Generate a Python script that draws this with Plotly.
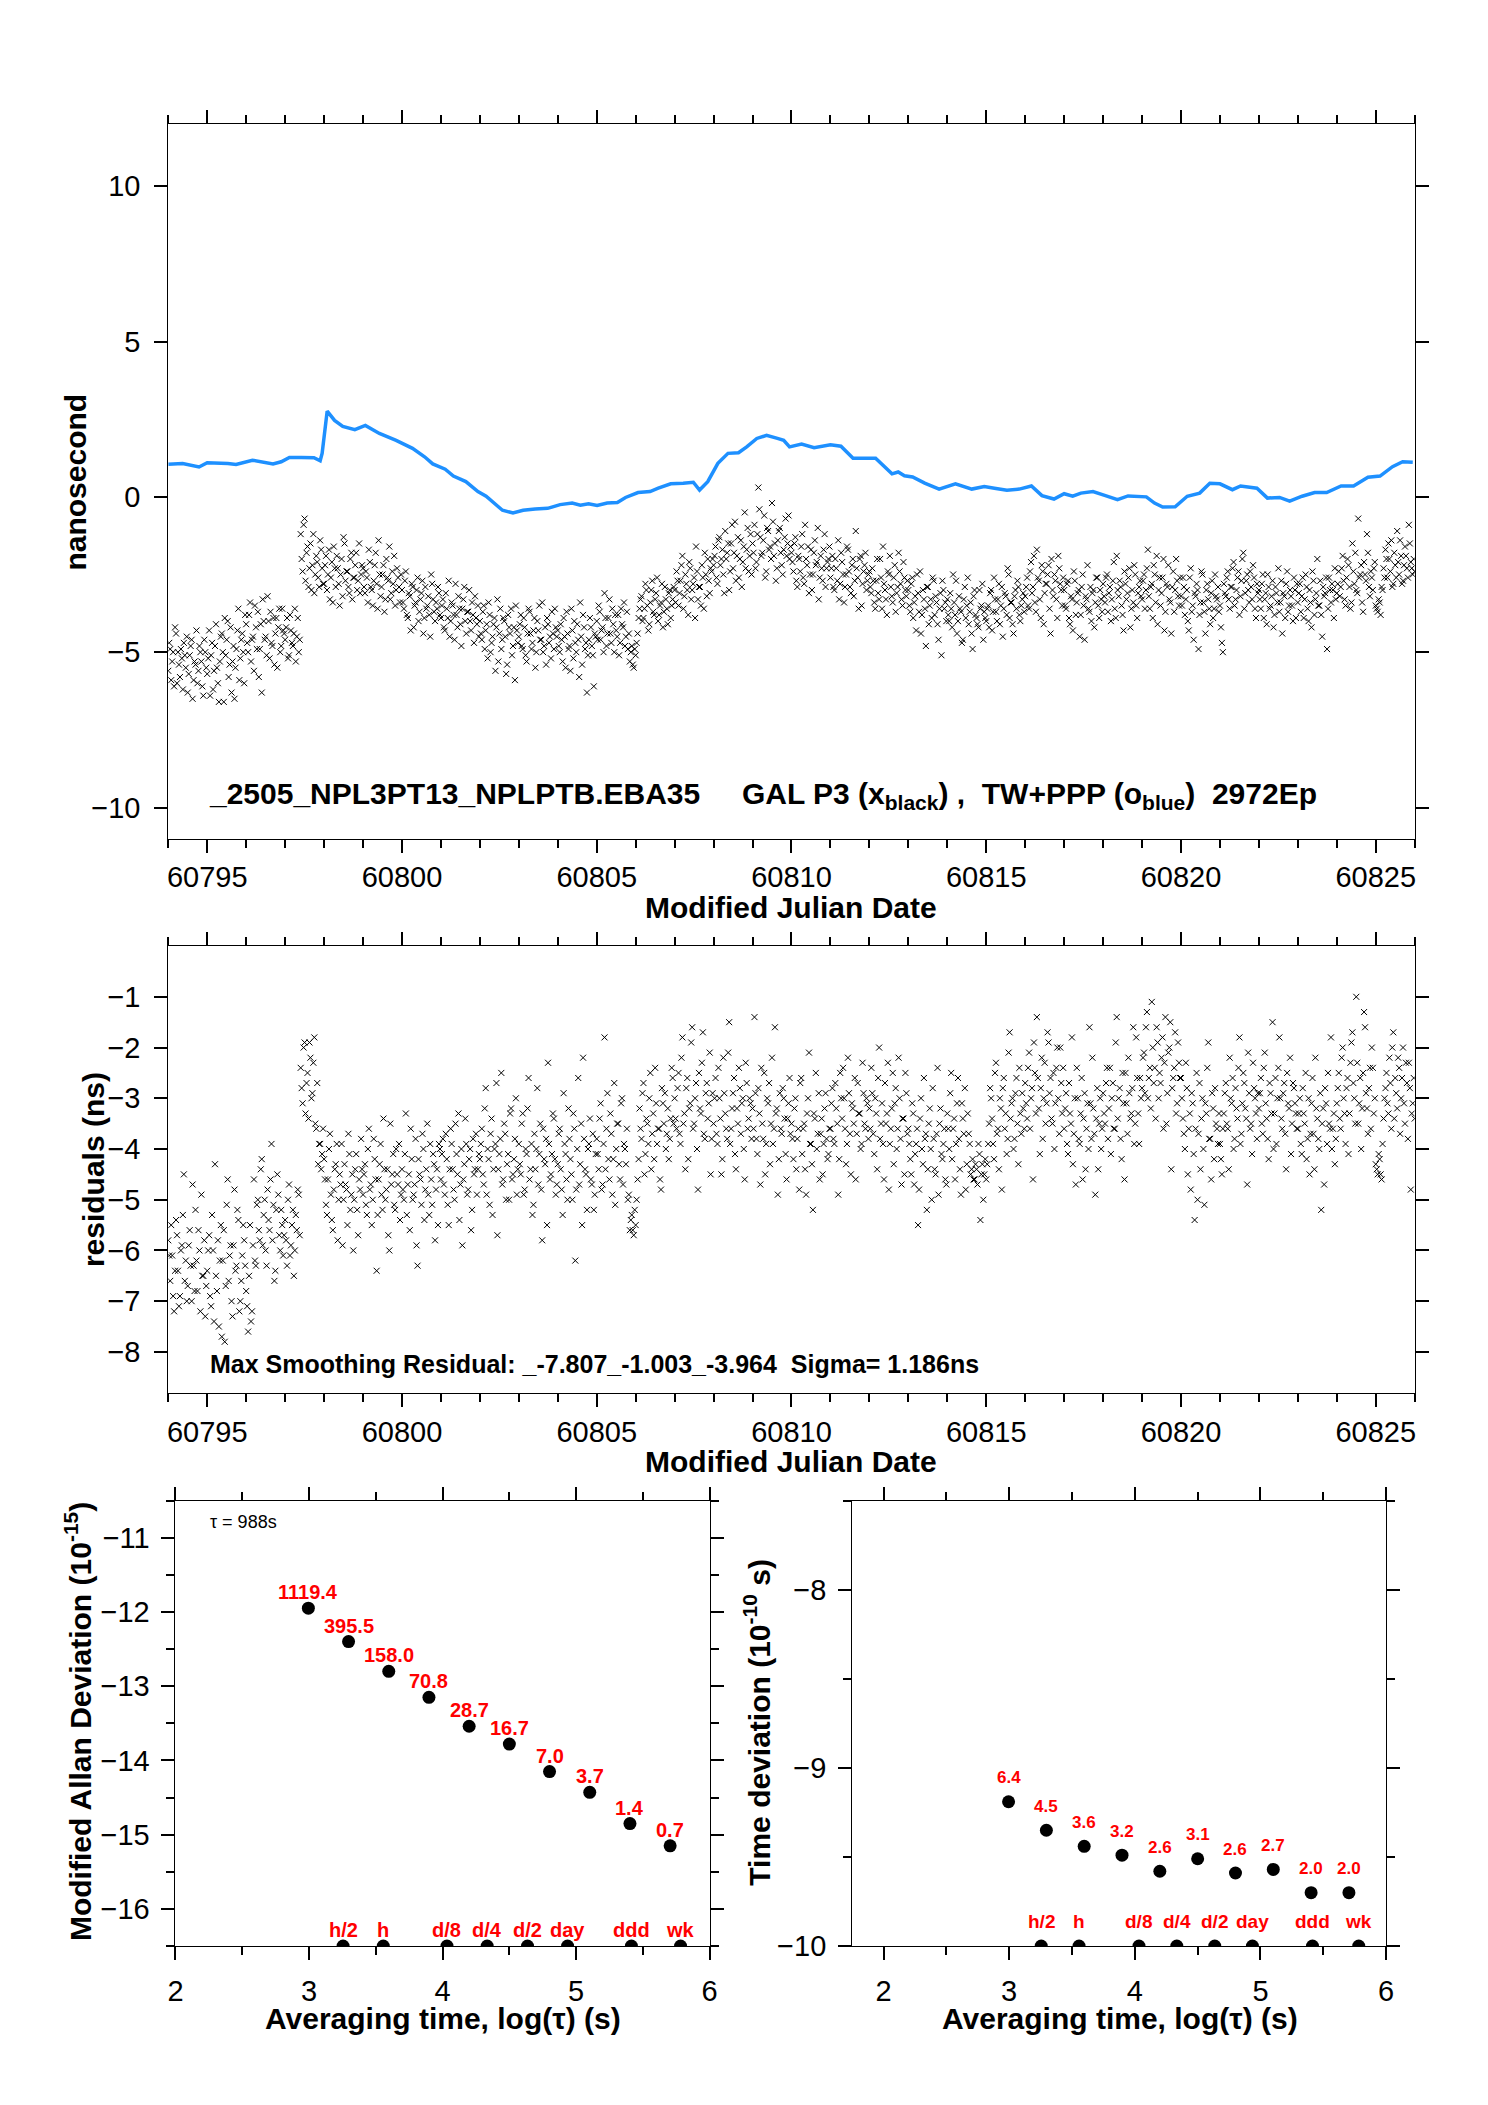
import numpy as np
import plotly.graph_objects as go

FONT = "Liberation Sans, Arial, Helvetica, sans-serif"
W, H = 1488, 2105

# ---------------- data ----------------
MJD_START = 60794.0
EPOCH_STEP = 0.05      # days between plotted epochs of one sample set
HALF_STEP_OFFSET = 0.025   # second, interleaved sample set

# GAL P3 clock differences (ns), one row per day (epochs 60794.000 + 0.05 k)
GAL_P3 = [
 -5.6,-4.9,-5.3,-6.1,-4.4,-5.0,-5.8,-5.2,-4.7,-5.5,-6.3,-5.1,-4.6,-5.9,-5.4,-6.0,-4.8,-5.3,-6.4,-5.0,
 -5.7,-4.3,-5.1,-6.2,-4.8,-5.5,-6.6,-4.5,-5.0,-3.9,-4.6,-5.8,-4.2,-5.3,-6.5,-4.9,-3.6,-5.2,-4.4,-6.0,
 -4.1,-5.0,-3.4,-4.6,-5.6,-4.2,-3.7,-4.9,-6.3,-4.0,-4.5,-3.2,-5.2,-4.7,-3.9,-4.4,-5.5,-3.6,-4.8,-4.3,
 -4.6,-3.9,-5.1,-4.3,-4.8,-3.6,-4.5,-5.0,-1.2,-2.4,-0.7,-1.8,-2.9,-1.5,-2.2,-3.1,-1.9,-2.6,-1.4,-2.3,
 -2.8,-1.9,-2.5,-3.3,-2.1,-1.6,-2.9,-2.3,-3.5,-2.0,-1.3,-2.7,-2.4,-3.1,-1.8,-2.6,-2.2,-3.0,-1.5,-2.5,
 -2.3,-3.1,-2.6,-1.7,-2.9,-3.5,-2.2,-2.8,-1.4,-3.2,-2.5,-3.7,-2.0,-2.7,-3.3,-2.4,-1.9,-3.0,-2.6,-3.4,
 -3.0,-3.6,-2.4,-3.9,-3.2,-2.8,-4.2,-3.4,-2.6,-3.7,-3.1,-4.4,-2.9,-3.5,-3.8,-2.5,-3.3,-4.0,-3.6,-3.1,
 -3.9,-3.3,-4.3,-3.6,-2.7,-4.0,-3.5,-4.6,-3.8,-3.2,-4.1,-3.6,-2.9,-4.4,-3.7,-4.0,-3.4,-4.7,-3.9,-3.5,
 -4.0,-4.6,-3.5,-4.3,-5.2,-3.8,-4.7,-4.1,-5.6,-3.3,-4.4,-4.9,-3.9,-4.5,-5.4,-4.2,-3.6,-4.8,-5.9,-4.3,
 -4.5,-3.8,-4.9,-4.2,-5.3,-3.6,-4.4,-4.7,-3.9,-5.0,-4.3,-4.6,-3.4,-4.8,-5.4,-4.1,-4.5,-3.7,-4.9,-4.2,
 -4.3,-5.0,-4.6,-3.9,-5.5,-4.4,-4.8,-3.6,-5.2,-4.7,-4.1,-5.8,-4.5,-3.8,-4.9,-6.3,-4.6,-4.2,-5.1,-4.4,
 -4.0,-3.5,-4.6,-4.2,-3.1,-4.8,-3.9,-4.4,-3.6,-5.0,-4.3,-3.8,-4.7,-4.1,-3.4,-4.5,-4.9,-5.3,-4.8,-5.5,
 -5.1,-4.4,-3.6,-3.2,-3.9,-2.8,-3.5,-4.1,-3.0,-3.7,-3.3,-2.6,-3.8,-3.4,-4.2,-2.9,-3.6,-3.1,-3.9,-3.3,
 -3.0,-2.4,-3.5,-2.7,-1.9,-3.2,-2.8,-3.8,-2.3,-3.0,-2.6,-1.6,-3.3,-2.9,-2.2,-3.6,-2.5,-2.0,-3.1,-2.4,
 -2.2,-1.6,-2.8,-1.3,-2.0,-2.5,-1.1,-1.8,-3.0,-1.5,-2.3,-0.8,-1.9,-2.6,-1.4,-2.1,-0.5,-1.7,-2.4,-1.2,
 -1.5,-0.9,-2.1, 0.3,-1.3,-1.8,-0.6,-2.4,-1.1,-1.6,-0.2,-1.9,-2.7,-1.4,-1.0,-2.2,-1.7,-0.7,-1.5,-2.0,
 -1.8,-2.4,-1.3,-2.9,-2.0,-1.6,-2.6,-0.9,-2.2,-3.1,-1.7,-2.5,-1.4,-2.1,-3.3,-1.9,-2.7,-1.2,-2.3,-2.0,
 -2.6,-1.9,-3.0,-2.3,-1.4,-2.8,-2.1,-3.4,-2.5,-1.7,-2.9,-2.2,-3.2,-1.1,-2.6,-2.0,-3.5,-2.4,-1.8,-2.7,
 -2.4,-3.1,-2.7,-3.6,-2.0,-3.3,-2.6,-1.6,-3.0,-3.8,-2.5,-2.9,-3.4,-2.2,-3.1,-1.8,-2.8,-3.5,-2.6,-3.2,
 -3.0,-3.7,-2.6,-3.4,-4.3,-3.1,-2.4,-3.8,-3.3,-4.8,-2.9,-3.5,-3.9,-2.7,-3.2,-4.1,-3.6,-5.1,-3.0,-3.4,
 -3.3,-4.0,-3.6,-2.5,-3.8,-4.4,-3.2,-3.7,-4.6,-2.9,-3.5,-4.1,-3.4,-4.9,-3.0,-3.9,-4.2,-3.6,-2.8,-3.7,
 -4.0,-3.5,-3.1,-4.3,-2.6,-3.7,-3.3,-4.1,-2.9,-3.6,-3.2,-2.3,-3.9,-3.4,-4.4,-3.0,-2.7,-3.8,-3.5,-3.1,
 -3.2,-2.6,-3.6,-2.1,-2.9,-3.4,-1.7,-2.7,-3.9,-2.4,-3.1,-2.8,-2.2,-4.4,-3.0,-2.5,-3.3,-1.9,-2.8,-3.5,
 -3.0,-3.6,-2.7,-4.1,-3.3,-2.4,-3.8,-3.1,-4.5,-2.9,-3.5,-3.2,-2.2,-3.7,-4.0,-3.0,-3.4,-2.6,-3.9,-3.3,
 -2.8,-3.4,-2.5,-3.1,-4.0,-2.7,-3.6,-1.9,-3.2,-2.9,-3.8,-2.4,-3.3,-2.6,-4.2,-3.0,-2.2,-3.5,-3.1,-2.7,
 -3.3,-2.5,-3.0,-1.7,-3.6,-2.8,-2.2,-3.4,-4.1,-2.6,-3.1,-2.0,-3.7,-2.9,-3.3,-4.4,-2.4,-3.0,-2.7,-3.5,
 -3.2,-2.6,-3.8,-3.0,-4.3,-2.3,-3.5,-3.1,-2.8,-4.9,-3.4,-2.5,-3.7,-3.0,-3.3,-4.1,-2.7,-3.6,-3.2,-2.9,
 -3.5,-4.7,-2.8,-3.2,-2.4,-3.6,-2.9,-2.1,-3.3,-2.6,-3.8,-2.7,-1.8,-3.1,-2.5,-3.4,-2.9,-2.2,-3.6,-2.8,
 -3.0,-3.6,-2.5,-3.3,-4.1,-2.9,-3.5,-2.7,-3.8,-3.1,-2.3,-3.4,-4.4,-3.2,-2.8,-3.7,-3.0,-3.5,-2.6,-3.9,
 -3.4,-2.8,-3.2,-3.9,-2.5,-3.6,-3.0,-4.2,-2.7,-3.3,-2.0,-3.5,-3.8,-2.9,-3.1,-4.9,-2.6,-3.4,-3.0,-2.3,
 -3.1,-2.4,-2.9,-1.9,-3.3,-2.6,-2.2,-3.6,-1.5,-2.8,-3.0,-0.7,-2.5,-3.4,-2.1,-2.7,-1.8,-3.2,-2.6,-2.3,
 -3.5,-3.7,-3.4,-2.9,-2.3,-1.7,-2.6,-2.0,-1.4,-2.8,-2.2,-1.1,-2.5,-1.9,-2.7,-1.6,-2.3,-0.9,-2.1,-2.5,
 -2.4,
]

# GAL P3, interleaved epochs (60794.025 + 0.05 k)
GAL_P3_B = [
 -4.7,-5.9,-5.0,-4.2,-6.0,-5.4,-4.9,-6.2,-5.1,-4.5,-5.7,-4.8,-6.5,-5.3,-4.3,-5.6,-5.0,-6.1,-4.6,-5.5,
 -5.2,-6.4,-4.7,-5.6,-4.1,-6.0,-5.3,-4.4,-6.6,-5.1,-4.0,-5.4,-6.3,-4.8,-5.5,-4.3,-5.9,-4.6,-5.0,-3.8,
 -4.7,-3.8,-5.3,-4.5,-3.5,-4.9,-5.8,-4.1,-3.3,-4.6,-5.1,-4.0,-3.7,-4.8,-5.4,-3.9,-4.2,-5.0,-3.6,-4.4,
 -4.2,-5.2,-3.8,-4.7,-4.4,-5.3,-3.9,-4.6,-2.0,-0.9,-2.7,-1.6,-2.3,-3.0,-1.2,-2.5,-2.1,-2.9,-1.7,-2.8,
 -2.2,-3.0,-1.7,-2.6,-3.4,-2.3,-1.9,-2.8,-2.5,-3.2,-1.5,-2.4,-2.9,-2.0,-3.3,-2.6,-1.8,-2.7,-3.1,-2.2,
 -2.9,-2.4,-3.4,-2.1,-3.0,-2.7,-1.8,-3.6,-2.5,-2.9,-2.2,-3.3,-2.6,-1.6,-3.1,-2.8,-3.5,-2.3,-2.9,-2.5,
 -3.4,-2.7,-3.8,-3.1,-4.3,-2.9,-3.5,-3.0,-4.0,-3.3,-2.7,-3.9,-3.6,-3.2,-4.5,-2.8,-3.7,-3.4,-2.9,-3.8,
 -3.5,-4.2,-3.1,-3.9,-4.5,-3.4,-3.8,-2.8,-4.2,-3.6,-4.8,-3.3,-4.0,-3.7,-3.0,-4.3,-3.8,-3.2,-4.1,-4.5,
 -4.4,-3.7,-4.9,-4.1,-3.4,-5.0,-4.5,-3.9,-4.2,-5.3,-3.6,-4.6,-4.0,-5.7,-3.8,-4.4,-5.1,-4.2,-3.5,-4.7,
 -4.1,-4.8,-3.9,-5.1,-4.4,-3.7,-4.9,-4.3,-5.5,-4.0,-3.5,-4.6,-5.0,-4.2,-3.9,-4.7,-5.2,-4.4,-3.6,-4.5,
 -4.8,-4.1,-5.3,-4.5,-3.7,-4.9,-5.6,-4.3,-4.0,-5.0,-4.6,-3.4,-5.4,-4.2,-4.7,-5.1,-3.9,-4.8,-6.1,-4.5,
 -4.6,-3.7,-4.3,-5.0,-3.9,-4.4,-3.3,-4.7,-4.1,-3.8,-4.5,-5.1,-3.6,-4.2,-4.8,-3.7,-4.4,-5.0,-5.4,-4.9,
 -4.7,-3.9,-3.3,-4.0,-3.6,-3.0,-4.3,-3.4,-2.7,-3.8,-3.1,-4.0,-3.5,-2.8,-3.7,-3.3,-4.1,-3.0,-3.5,-2.9,
 -3.4,-2.7,-3.1,-2.2,-3.6,-2.5,-3.0,-2.1,-3.3,-2.8,-3.9,-2.4,-2.9,-3.5,-2.6,-1.8,-3.2,-2.7,-2.3,-2.0,
 -1.9,-2.6,-1.4,-2.2,-1.7,-3.1,-2.0,-1.5,-2.4,-0.9,-1.8,-2.7,-1.3,-2.0,-2.9,-1.6,-2.3,-1.0,-1.9,-2.5,
 -1.8,-2.3,-1.2,-0.4,-1.9,-1.4,-2.6,-1.0,-1.7,-2.0,-0.8,-1.5,-2.3,-1.1,-1.8,-2.5,-1.3,-1.9,-0.6,-1.6,
 -2.1,-1.5,-2.7,-1.9,-2.4,-1.2,-2.8,-2.0,-1.6,-2.5,-3.0,-1.8,-2.2,-1.0,-2.6,-2.3,-1.7,-2.9,-2.1,-1.6,
 -2.3,-2.9,-2.0,-2.7,-3.3,-1.8,-2.5,-2.9,-1.6,-2.4,-3.1,-2.0,-2.7,-2.3,-3.6,-1.9,-2.8,-2.2,-3.0,-2.5,
 -2.9,-2.3,-3.4,-2.7,-3.1,-2.0,-3.6,-2.8,-3.3,-2.4,-1.9,-3.2,-2.6,-3.7,-2.9,-2.4,-3.3,-2.1,-3.0,-2.7,
 -3.5,-2.8,-3.9,-3.2,-2.5,-3.7,-4.4,-3.0,-3.6,-2.9,-4.1,-3.3,-2.6,-3.8,-3.4,-4.6,-3.1,-2.7,-3.6,-4.0,
 -3.8,-3.1,-4.2,-3.4,-2.7,-4.0,-3.6,-4.7,-3.3,-3.9,-2.6,-3.7,-4.4,-3.2,-3.8,-4.1,-3.0,-3.5,-4.6,-3.9,
 -3.6,-4.2,-3.0,-3.7,-3.3,-4.0,-2.8,-3.5,-4.5,-3.1,-3.8,-2.5,-3.4,-4.1,-3.2,-3.6,-2.9,-4.0,-3.3,-3.7,
 -2.9,-3.5,-2.4,-3.1,-1.9,-3.7,-2.6,-3.3,-2.2,-4.1,-2.8,-2.5,-3.6,-2.0,-3.2,-2.7,-3.9,-2.3,-3.0,-2.6,
 -3.5,-2.8,-3.9,-3.2,-4.3,-2.7,-3.4,-3.0,-3.8,-2.5,-4.6,-3.3,-3.6,-2.9,-3.1,-4.2,-2.6,-3.5,-3.0,-3.7,
 -3.2,-2.6,-3.7,-2.9,-3.3,-2.1,-3.9,-3.0,-2.7,-3.5,-4.3,-2.8,-3.1,-2.3,-3.6,-3.4,-2.5,-3.9,-2.9,-3.2,
 -2.7,-3.6,-2.3,-3.2,-2.9,-3.9,-2.5,-1.9,-3.0,-3.5,-2.6,-4.3,-2.8,-2.2,-3.4,-2.9,-3.7,-2.0,-3.2,-2.6,
 -3.5,-2.9,-3.3,-4.0,-2.6,-3.7,-4.6,-3.2,-3.0,-3.8,-2.4,-3.4,-4.4,-2.8,-3.6,-3.1,-3.9,-2.5,-3.3,-3.7,
 -4.2,-5.0,-3.1,-2.6,-3.3,-2.9,-2.3,-3.5,-3.0,-2.4,-3.2,-2.0,-3.6,-2.7,-3.0,-2.4,-3.3,-2.6,-3.9,-3.1,
 -3.3,-2.8,-3.9,-3.1,-2.5,-3.6,-3.2,-4.2,-2.9,-3.4,-3.7,-2.7,-3.1,-3.9,-2.4,-3.5,-3.2,-4.0,-3.0,-2.8,
 -3.1,-3.7,-2.6,-3.3,-2.9,-4.0,-3.4,-2.4,-3.8,-3.1,-3.5,-2.7,-4.5,-3.2,-2.6,-3.6,-3.0,-2.8,-3.9,-3.3,
 -2.8,-3.2,-2.3,-2.7,-3.5,-2.0,-2.9,-3.4,-2.4,-1.8,-3.1,-2.6,-2.2,-3.7,-2.5,-1.2,-2.9,-2.4,-3.0,-2.1,
 -3.6,-3.3,-3.8,-3.0,-2.6,-2.0,-1.5,-2.4,-2.9,-1.8,-2.6,-2.1,-1.4,-2.8,-2.2,-1.9,-2.6,-1.5,-2.3,-2.0,
]

# Smoothing residuals (ns), one row per day (epochs 60794.000 + 0.05 k)
RESIDUALS = [
 -5.8,-6.6,-6.1,-7.2,-5.4,-6.4,-6.9,-5.9,-4.5,-6.2,-6.7,-5.6,-7.0,-6.3,-5.2,-6.8,-6.0,-4.9,-6.5,-7.3,
 -6.4,-5.7,-7.1,-6.0,-4.3,-6.8,-7.5,-5.5,-6.2,-7.8,-5.1,-6.6,-5.9,-7.3,-4.8,-6.3,-5.4,-7.0,-6.1,-5.8,
 -6.8,-7.6,-5.5,-7.2,-4.6,-6.3,-5.0,-5.8,-4.2,-5.3,-6.0,-4.8,-5.6,-3.9,-5.1,-6.4,-4.5,-5.7,-5.2,-6.1,
 -5.4,-6.3,-4.7,-5.9,-5.2,-6.0,-5.6,-4.9,-2.4,-3.1,-1.9,-2.7,-3.4,-2.2,-2.9,-1.8,-3.6,-4.3,-3.9,-4.1,
 -4.2,-5.1,-4.6,-3.7,-5.4,-4.8,-4.3,-5.8,-4.5,-3.9,-5.0,-4.7,-5.5,-4.1,-4.9,-6.0,-4.4,-5.2,-4.6,-3.8,
 -4.9,-4.3,-5.3,-3.6,-4.7,-5.0,-4.2,-6.4,-4.6,-3.9,-5.2,-4.4,-4.8,-5.7,-3.5,-4.5,-5.1,-4.0,-4.7,-5.4,
 -4.4,-5.0,-3.3,-4.7,-5.6,-4.2,-4.9,-3.8,-6.3,-4.5,-5.1,-4.0,-4.8,-3.5,-5.3,-4.6,-4.1,-5.8,-4.4,-3.9,
 -4.6,-3.8,-4.9,-4.2,-5.5,-3.6,-4.4,-5.0,-4.1,-3.3,-4.7,-5.9,-4.3,-3.9,-4.8,-4.0,-5.2,-4.5,-3.7,-4.4,
 -4.2,-3.6,-4.7,-2.8,-4.0,-5.1,-3.4,-4.4,-3.9,-5.7,-4.1,-2.5,-4.6,-3.7,-4.3,-5.0,-3.2,-4.5,-3.8,-4.9,
 -3.9,-4.5,-3.3,-4.8,-4.1,-2.6,-4.4,-5.3,-3.7,-4.0,-4.7,-3.5,-5.8,-4.2,-3.8,-2.3,-4.6,-4.1,-3.4,-4.9,
 -4.3,-3.6,-4.8,-2.9,-4.1,-5.0,-3.8,-4.5,-3.3,-6.2,-4.0,-4.7,-3.5,-2.2,-4.4,-5.2,-3.9,-4.6,-3.7,-4.9,
 -3.8,-4.4,-3.1,-4.7,-1.8,-3.6,-4.2,-3.3,-4.9,-2.7,-4.0,-3.5,-4.6,-3.0,-3.9,-4.3,-5.0,-5.6,-5.3,-5.7,
 -5.5,-4.6,-3.2,-3.8,-2.7,-4.1,-3.5,-3.0,-4.4,-3.3,-2.4,-3.9,-3.6,-4.8,-3.1,-2.9,-3.7,-4.2,-3.4,-2.6,
 -3.0,-3.6,-2.5,-3.9,-1.8,-3.3,-2.8,-4.2,-3.1,-1.6,-3.5,-2.7,-4.8,-3.2,-2.3,-3.7,-2.9,-3.4,-2.1,-3.8,
 -3.5,-2.6,-3.9,-3.0,-4.5,-2.2,-3.3,-3.8,-1.5,-3.6,-2.9,-4.1,-3.2,-2.4,-3.7,-3.0,-4.6,-2.7,-3.4,-3.1,
 -3.2,-1.4,-3.8,-2.8,-4.7,-3.5,-2.5,-3.9,-3.1,-4.3,-2.2,-3.6,-3.3,-4.9,-2.9,-3.7,-3.0,-4.1,-3.4,-2.6,
 -3.5,-4.2,-3.0,-3.8,-4.8,-2.6,-3.6,-4.4,-3.3,-2.1,-3.9,-5.2,-3.4,-4.0,-2.9,-3.7,-4.5,-3.2,-3.8,-4.1,
 -3.6,-2.8,-3.9,-3.2,-4.9,-2.5,-3.4,-3.0,-4.3,-2.2,-3.7,-3.1,-3.5,-4.6,-2.7,-3.3,-3.9,-2.9,-3.6,-3.1,
 -3.2,-2.4,-3.7,-3.0,-4.4,-2.0,-3.5,-3.9,-2.7,-3.3,-4.8,-3.6,-2.5,-3.1,-4.0,-2.2,-3.8,-3.4,-4.5,-2.9,
 -3.6,-4.2,-3.1,-4.7,-3.9,-5.5,-3.4,-4.0,-2.6,-3.7,-4.4,-3.2,-5.0,-3.8,-4.5,-2.4,-3.5,-4.1,-3.9,-4.6,
 -3.3,-4.0,-2.5,-3.6,-4.6,-3.1,-3.8,-4.9,-3.4,-2.8,-4.3,-3.7,-4.5,-4.2,-4.6,-4.4,-3.9,-5.4,-4.3,-4.5,
 -4.6,-3.9,-2.8,-3.4,-4.2,-2.3,-3.6,-3.0,-4.8,-2.6,-3.3,-3.8,-1.7,-3.1,-4.0,-2.9,-3.5,-2.4,-3.7,-3.2,
 -2.7,-3.4,-2.1,-3.0,-4.6,-2.5,-1.4,-3.2,-2.8,-3.8,-2.3,-3.1,-1.9,-2.6,-3.5,-4.0,-2.4,-3.0,-2.0,-3.3,
 -3.6,-2.9,-4.1,-3.3,-1.8,-3.7,-4.7,-3.0,-3.9,-2.6,-3.4,-4.4,-3.1,-1.6,-3.8,-3.2,-4.9,-2.8,-3.5,-4.0,
 -2.9,-3.5,-2.4,-3.2,-4.1,-2.7,-3.6,-1.4,-3.0,-3.8,-2.5,-4.6,-3.1,-2.2,-3.4,-2.8,-3.9,-1.8,-3.3,-2.6,
 -2.8,-2.1,-1.6,-3.0,-2.4,-1.1,-2.7,-3.4,-1.9,-2.5,-2.2,-3.6,-1.4,-2.9,-2.0,-4.4,-2.6,-1.7,-3.1,-2.3,
 -2.6,-3.4,-4.0,-2.8,-3.6,-4.8,-3.1,-5.4,-2.5,-3.7,-4.4,-3.0,-5.1,-3.3,-1.9,-3.8,-2.9,-4.2,-3.5,-3.9,
 -3.9,-4.5,-3.3,-2.7,-3.6,-2.2,-3.1,-4.0,-2.8,-3.4,-1.8,-3.7,-2.5,-3.2,-4.7,-2.9,-3.5,-2.3,-3.0,-3.8,
 -3.2,-2.6,-3.7,-2.1,-3.4,-4.2,-2.9,-1.5,-3.3,-3.9,-2.4,-3.0,-3.6,-2.7,-4.4,-3.1,-2.2,-3.5,-2.8,-3.3,
 -3.6,-3.0,-4.1,-3.3,-2.5,-3.8,-4.5,-3.1,-3.7,-2.2,-3.4,-4.0,-5.2,-3.2,-2.8,-3.9,-3.5,-1.8,-3.6,-4.3,
 -3.1,-2.5,-3.6,-2.0,-3.3,-2.8,-4.1,-2.3,-1.7,-3.0,-1.0,-3.5,-2.6,-3.2,-1.3,-2.9,-3.7,-2.4,-2.0,-3.3,
 -4.3,-4.5,-4.2,-4.6,-3.4,-2.8,-3.1,-2.2,-3.6,-1.7,-2.6,-3.2,-2.4,-3.0,-2.0,-3.5,-2.7,-2.3,-4.8,-3.1,
 -3.4,
]

# Residuals, interleaved epochs (60794.025 + 0.05 k)
RESIDUALS_B = [
 -6.1,-5.5,-6.9,-6.4,-5.7,-7.1,-6.0,-5.3,-6.6,-7.0,-5.9,-6.3,-4.7,-6.8,-6.2,-5.6,-7.2,-6.5,-5.8,-6.7,
 -6.0,-6.9,-5.3,-7.4,-6.5,-5.8,-6.2,-7.7,-5.6,-6.7,-4.6,-6.1,-7.0,-5.9,-6.4,-5.2,-7.2,-6.6,-5.5,-6.3,
 -7.1,-6.5,-7.4,-5.9,-6.2,-5.1,-5.6,-4.4,-5.9,-5.0,-6.3,-5.4,-4.6,-5.8,-6.6,-5.2,-4.9,-6.0,-5.5,-5.7,
 -5.8,-5.0,-6.1,-5.5,-6.5,-5.3,-4.8,-5.7,-2.8,-2.0,-3.3,-2.5,-1.9,-3.0,-2.3,-3.5,-2.7,-3.9,-4.4,-3.6,
 -4.6,-5.3,-4.0,-4.9,-5.6,-4.4,-3.9,-5.0,-4.7,-5.9,-4.3,-4.8,-3.7,-5.2,-4.5,-5.0,-4.1,-5.7,-4.8,-4.4,
 -4.5,-5.1,-4.0,-4.8,-5.5,-3.8,-4.6,-5.3,-4.3,-4.9,-3.4,-5.0,-4.4,-6.0,-4.7,-4.1,-5.2,-4.5,-3.9,-4.9,
 -4.8,-4.1,-5.3,-4.5,-3.6,-5.0,-4.7,-5.9,-4.2,-4.6,-3.7,-5.4,-4.4,-4.9,-3.9,-5.1,-4.3,-4.8,-5.5,-4.0,
 -4.1,-4.7,-3.7,-5.1,-4.4,-3.9,-4.8,-3.5,-4.5,-5.4,-4.0,-4.6,-3.4,-4.9,-4.2,-5.6,-3.8,-4.4,-4.9,-4.1,
 -3.9,-4.5,-3.2,-4.9,-4.2,-3.7,-5.3,-4.0,-2.7,-4.4,-3.8,-4.7,-3.5,-5.0,-4.1,-3.3,-4.6,-4.2,-3.0,-4.4,
 -4.3,-3.5,-4.9,-4.0,-3.2,-4.6,-3.9,-5.1,-4.4,-2.8,-4.1,-4.8,-3.6,-4.3,-5.5,-3.9,-4.5,-3.3,-4.2,-4.7,
 -3.7,-4.4,-5.3,-3.9,-4.6,-3.2,-4.2,-5.0,-3.6,-4.8,-2.6,-4.3,-5.5,-3.8,-4.5,-4.0,-3.4,-4.7,-5.2,-4.1,
 -4.1,-3.4,-4.8,-3.9,-4.4,-2.9,-4.6,-3.7,-4.2,-5.1,-3.5,-4.3,-3.1,-4.7,-4.0,-3.6,-4.9,-5.4,-5.6,-5.2,
 -5.0,-4.2,-3.6,-2.9,-4.5,-3.4,-3.9,-2.5,-3.7,-4.2,-3.1,-3.6,-4.6,-2.8,-3.5,-4.0,-3.2,-3.8,-2.4,-3.5,
 -3.4,-2.8,-3.7,-2.2,-3.5,-4.4,-2.6,-3.2,-1.9,-3.6,-3.0,-4.0,-2.5,-3.3,-1.7,-3.8,-2.7,-3.1,-4.5,-2.9,
 -3.0,-3.7,-2.4,-3.4,-4.2,-2.9,-3.6,-2.1,-3.9,-3.2,-2.6,-4.4,-3.5,-2.8,-3.1,-4.0,-2.3,-3.6,-3.0,-3.8,
 -3.6,-2.9,-4.1,-3.3,-2.4,-3.8,-4.5,-3.0,-2.7,-3.5,-3.9,-1.6,-3.2,-4.2,-3.6,-2.8,-3.4,-4.6,-3.1,-3.7,
 -3.8,-3.2,-4.4,-3.6,-2.7,-4.1,-3.5,-4.9,-3.0,-3.9,-4.3,-3.3,-2.5,-3.7,-4.6,-3.4,-3.9,-2.9,-4.2,-3.6,
 -3.1,-3.8,-2.7,-3.5,-4.2,-3.0,-2.4,-3.6,-3.9,-2.9,-4.5,-3.2,-2.6,-3.7,-3.3,-4.0,-2.3,-3.5,-3.0,-3.8,
 -3.6,-2.9,-4.1,-3.3,-2.6,-3.8,-3.1,-4.6,-3.5,-2.3,-3.9,-3.2,-4.3,-2.8,-3.6,-3.0,-4.7,-3.4,-2.5,-3.7,
 -3.9,-4.5,-3.3,-4.1,-3.6,-4.8,-3.0,-4.3,-3.8,-5.2,-3.5,-4.0,-2.8,-4.4,-3.7,-4.9,-3.2,-4.2,-3.6,-4.7,
 -3.6,-2.9,-4.2,-3.4,-3.9,-2.6,-4.4,-3.1,-3.7,-4.8,-3.3,-3.9,-4.4,-4.6,-4.3,-4.7,-4.1,-4.5,-5.0,-4.2,
 -4.3,-3.5,-3.0,-3.9,-2.5,-3.7,-4.4,-3.2,-2.8,-3.6,-4.1,-2.1,-3.4,-3.0,-3.8,-2.6,-4.3,-3.3,-2.9,-3.6,
 -3.1,-2.4,-3.6,-2.8,-1.9,-3.3,-2.6,-4.1,-2.2,-3.0,-3.5,-1.7,-2.9,-3.4,-2.5,-3.1,-2.0,-3.7,-2.7,-2.4,
 -3.2,-3.9,-2.7,-3.5,-4.3,-3.0,-2.4,-3.8,-3.3,-4.6,-2.9,-3.6,-4.0,-3.1,-2.2,-3.7,-3.4,-4.4,-3.0,-3.6,
 -3.3,-2.7,-3.8,-2.4,-3.0,-3.6,-1.9,-3.4,-2.8,-4.2,-3.1,-2.5,-3.7,-2.9,-3.3,-1.6,-3.5,-2.6,-3.9,-3.0,
 -2.2,-2.9,-1.3,-2.6,-3.2,-2.0,-2.4,-1.6,-3.0,-2.7,-1.8,-2.3,-3.5,-2.1,-1.5,-2.8,-2.4,-3.3,-1.9,-2.6,
 -3.0,-3.7,-2.3,-4.5,-3.3,-2.9,-4.1,-3.6,-5.0,-2.7,-3.4,-4.0,-3.1,-2.4,-3.8,-4.6,-3.2,-2.8,-3.6,-3.3,
 -4.2,-3.6,-2.9,-3.5,-4.4,-3.0,-2.6,-3.8,-3.2,-2.4,-3.9,-3.1,-2.7,-3.4,-2.1,-3.6,-4.1,-2.8,-3.3,-2.9,
 -2.9,-3.5,-2.4,-3.1,-3.8,-2.7,-3.3,-4.0,-2.6,-3.0,-1.8,-3.4,-2.9,-3.7,-2.5,-3.2,-4.1,-2.7,-3.1,-3.6,
 -3.3,-3.9,-2.8,-3.5,-4.2,-3.0,-3.7,-2.6,-4.4,-3.2,-3.8,-2.9,-3.5,-4.7,-3.1,-2.5,-3.6,-4.0,-3.3,-3.8,
 -2.8,-3.4,-2.2,-3.0,-3.9,-2.6,-3.3,-1.9,-2.7,-3.5,-2.3,-3.1,-4.0,-2.5,-1.6,-3.2,-2.8,-3.6,-2.4,-3.0,
 -4.4,-4.1,-4.5,-3.9,-3.0,-2.5,-3.3,-2.7,-2.0,-3.4,-2.9,-2.2,-3.7,-2.6,-3.1,-2.3,-3.8,-2.8,-3.3,-2.6,
]

# TW+PPP (blue) curve
BLUE_MJD = [60794.00, 60794.37, 60794.79, 60795.00, 60795.53, 60795.74, 60796.16, 60796.48, 60796.69,
            60796.90, 60797.11, 60797.42, 60797.74, 60797.90, 60797.95, 60798.08, 60798.27, 60798.48,
            60798.79, 60799.06, 60799.42, 60799.85, 60800.27, 60800.58, 60800.79, 60801.11, 60801.32,
            60801.64, 60801.95, 60802.16, 60802.37, 60802.58, 60802.85, 60803.11, 60803.42, 60803.74,
            60804.06, 60804.37, 60804.58, 60804.79, 60805.01, 60805.27, 60805.53, 60805.74, 60806.06,
            60806.37, 60806.58, 60806.90, 60807.22, 60807.48, 60807.64, 60807.85, 60808.11, 60808.37,
            60808.64, 60808.85, 60809.11, 60809.36, 60809.64, 60809.80, 60809.95, 60810.26, 60810.58,
            60811.00, 60811.27, 60811.58, 60812.16, 60812.58, 60812.74, 60812.90, 60813.11, 60813.42,
            60813.79, 60814.21, 60814.63, 60814.95, 60815.21, 60815.53, 60815.85, 60816.16, 60816.43,
            60816.74, 60817.00, 60817.22, 60817.43, 60817.74, 60818.06, 60818.37, 60818.64, 60819.11,
            60819.32, 60819.53, 60819.85, 60820.16, 60820.48, 60820.74, 60821.00, 60821.32, 60821.53,
            60821.95, 60822.22, 60822.53, 60822.79, 60823.11, 60823.43, 60823.74, 60824.11, 60824.43,
            60824.80, 60825.11, 60825.43, 60825.69, 60825.95]
BLUE_NS = [1.05, 1.07, 0.96, 1.10, 1.07, 1.04, 1.18, 1.10, 1.06,
           1.13, 1.27, 1.27, 1.26, 1.16, 1.40, 2.76, 2.46, 2.27,
           2.16, 2.30, 2.04, 1.82, 1.56, 1.29, 1.06, 0.89, 0.67,
           0.49, 0.17, 0.02, -0.20, -0.43, -0.52, -0.43, -0.39, -0.37,
           -0.25, -0.20, -0.27, -0.22, -0.28, -0.20, -0.18, -0.02, 0.14,
           0.17, 0.28, 0.42, 0.44, 0.47, 0.22, 0.49, 1.08, 1.40,
           1.42, 1.61, 1.88, 1.98, 1.88, 1.82, 1.61, 1.70, 1.58,
           1.68, 1.63, 1.24, 1.24, 0.74, 0.80, 0.68, 0.64, 0.44,
           0.25, 0.42, 0.25, 0.33, 0.28, 0.21, 0.25, 0.35, 0.04,
           -0.07, 0.10, 0.02, 0.12, 0.17, 0.04, -0.09, 0.03, 0.00,
           -0.20, -0.33, -0.32, 0.02, 0.12, 0.44, 0.42, 0.23, 0.35,
           0.28, -0.04, -0.02, -0.14, 0.02, 0.14, 0.14, 0.35, 0.35,
           0.63, 0.67, 0.97, 1.13, 1.11]

# Modified Allan deviation / time deviation
LOG_TAU = [2.995, 3.296, 3.597, 3.898, 4.199, 4.500, 4.801, 5.102, 5.403, 5.704]
MDEV_LOG = [-11.95, -12.40, -12.80, -13.15, -13.54, -13.78, -14.15, -14.43, -14.85, -15.15]
MDEV_LABELS = ["1119.4", "395.5", "158.0", "70.8", "28.7", "16.7", "7.0", "3.7", "1.4", "0.7"]
TDEV_LOG = [-9.19, -9.35, -9.44, -9.49, -9.58, -9.51, -9.59, -9.57, -9.70, -9.70]
TDEV_LABELS = ["6.4", "4.5", "3.6", "3.2", "2.6", "3.1", "2.6", "2.7", "2.0", "2.0"]
MARK_LOG_TAU = [3.255, 3.556, 4.033, 4.334, 4.636, 4.936, 5.414, 5.782]
MARK_LABELS = ["h/2", "h", "d/8", "d/4", "d/2", "day", "ddd", "wk"]

MJD_RANGE = [60794, 60826]
TOP_YRANGE = [-11, 12]
RES_YRANGE = [-8.807, -0.003]
MDEV_YRANGE = [-16.5, -10.5]
TDEV_YRANGE = [-10, -7.5]

NB = "\u00a0"
TITLE_TOP = ("_2505_NPL3PT13_NPLPTB.EBA35" + NB * 5 + "GAL P3 (x<sub>black</sub>)" + NB + "," + NB * 2 +
             "TW+PPP (o<sub>blue</sub>)" + NB * 2 + "2972Ep")
TITLE_RES = "Max Smoothing Residual: _-7.807_-1.003_-3.964" + NB * 2 + "Sigma= 1.186ns"

mjd_a = np.round(MJD_START + EPOCH_STEP * np.arange(len(GAL_P3)), 3)
mjd_b = np.round(MJD_START + HALF_STEP_OFFSET + EPOCH_STEP * np.arange(len(GAL_P3_B)), 3)
mjd_all = np.concatenate([mjd_a, mjd_b])
gal_all = list(GAL_P3) + list(GAL_P3_B)
res_all = list(RESIDUALS) + list(RESIDUALS_B)


def px(x):
    return x / W


def py(y):
    return 1 - y / H


fig = go.Figure()

xmark = dict(symbol="x-thin", size=6, color="black", line=dict(width=1, color="black"))

fig.add_trace(go.Scatter(x=mjd_all, y=gal_all, mode="markers", marker=xmark,
                         xaxis="x", yaxis="y", showlegend=False, hoverinfo="skip"))
fig.add_trace(go.Scatter(x=BLUE_MJD, y=BLUE_NS, mode="lines",
                         line=dict(color="#1E90FF", width=3.5),
                         xaxis="x", yaxis="y", showlegend=False, hoverinfo="skip"))
fig.add_trace(go.Scatter(x=mjd_all, y=res_all, mode="markers", marker=xmark,
                         xaxis="x2", yaxis="y2", showlegend=False, hoverinfo="skip"))

dot = dict(size=13, color="black")
fig.add_trace(go.Scatter(x=LOG_TAU, y=MDEV_LOG, mode="markers", marker=dot,
                         xaxis="x3", yaxis="y3", showlegend=False, hoverinfo="skip"))
fig.add_trace(go.Scatter(x=MARK_LOG_TAU, y=[MDEV_YRANGE[0]] * len(MARK_LOG_TAU), mode="markers",
                         marker=dot, xaxis="x3", yaxis="y3", showlegend=False, hoverinfo="skip"))
fig.add_trace(go.Scatter(x=LOG_TAU, y=TDEV_LOG, mode="markers", marker=dot,
                         xaxis="x4", yaxis="y4", showlegend=False, hoverinfo="skip"))
fig.add_trace(go.Scatter(x=MARK_LOG_TAU, y=[TDEV_YRANGE[0]] * len(MARK_LOG_TAU), mode="markers",
                         marker=dot, xaxis="x4", yaxis="y4", showlegend=False, hoverinfo="skip"))


def ax(**kw):
    d = dict(showline=True, linecolor="black", linewidth=1, mirror="allticks",
             ticks="outside", ticklen=13, tickwidth=2, tickcolor="black",
             showgrid=False, zeroline=False,
             tickfont=dict(size=29, color="black", family=FONT))
    d.update(kw)
    return d


minor_day = dict(dtick=1, tick0=60794, ticklen=8, tickwidth=2, ticks="outside", tickcolor="black")
minor_half = dict(dtick=0.5, tick0=2, ticklen=8, tickwidth=2, ticks="outside", tickcolor="black")

X_TOP = [px(162), px(1422)]
fig.update_layout(
    width=W, height=H, margin=dict(l=0, r=0, t=0, b=0),
    paper_bgcolor="white", plot_bgcolor="white",
    font=dict(family=FONT, color="black"),
    xaxis=ax(domain=X_TOP, range=MJD_RANGE, tick0=60795, dtick=5, tickformat="d",
             minor=minor_day, anchor="y", ticklabelstandoff=0),
    yaxis=ax(domain=[py(845), py(125)], range=TOP_YRANGE, tick0=0, dtick=5, anchor="x",
             ticklabelstandoff=8),
    xaxis2=ax(domain=X_TOP, range=MJD_RANGE, tick0=60795, dtick=5, tickformat="d",
              minor=minor_day, anchor="y2", ticklabelstandoff=0),
    yaxis2=ax(domain=[py(1403.5), py(953.5)], range=RES_YRANGE, tick0=0, dtick=1, anchor="x2",
              ticklabelstandoff=8),
    xaxis3=ax(domain=[px(169.3), px(709.3)], range=[2, 6], tick0=2, dtick=1, minor=minor_half,
              anchor="y3", ticklabelstandoff=6),
    yaxis3=ax(domain=[py(1961), py(1512)], range=MDEV_YRANGE, tick0=-11, dtick=1,
              minor=dict(minor_half, tick0=-11), anchor="x3", ticklabelstandoff=6),
    xaxis4=ax(domain=[px(853.3), px(1393.1)], range=[1.75, 6], tick0=2, dtick=1, minor=minor_half,
              anchor="y4", ticklabelstandoff=6),
    yaxis4=ax(domain=[py(1961), py(1512)], range=TDEV_YRANGE, tick0=-8, dtick=1,
              minor=dict(minor_half, tick0=-8), anchor="x4", ticklabelstandoff=6),
)

ann = []


def text_px(x, y, text, size, xanchor="center", angle=0, bold=True, color="black"):
    ann.append(dict(x=px(x), y=py(y), xref="paper", yref="paper", text=(f"<b>{text}</b>" if bold else text),
                    showarrow=False, xanchor=xanchor, yanchor="middle", textangle=angle,
                    font=dict(size=size, color=color, family=FONT)))


text_px(68, 486, "nanosecond", 30, angle=-90)
text_px(792, 914, "Modified Julian Date", 30)
text_px(201, 802, TITLE_TOP, 30, xanchor="left")
text_px(86, 1179, "residuals (ns)", 30, angle=-90)
text_px(792, 1473, "Modified Julian Date", 30)
text_px(202, 1374, TITLE_RES, 25, xanchor="left")
text_px(71, 1735, "Modified Allan Deviation (10<sup>-15</sup>)", 30, angle=-90)
text_px(757, 1735, "Time deviation (10<sup>-10</sup> s)", 30, angle=-90)
text_px(440, 2034, "Averaging time, log(\u03c4) (s)", 30)
text_px(1124, 2034, "Averaging time, log(\u03c4) (s)", 30)
text_px(202, 1534, "\u03c4 = 988s", 18, xanchor="left", bold=False)

for xv, yv, lab in zip(LOG_TAU, MDEV_LOG, MDEV_LABELS):
    ann.append(dict(x=xv, y=yv, xref="x3", yref="y3", text=f"<b>{lab}</b>", showarrow=False,
                    yshift=16, font=dict(size=20, color="red", family=FONT)))
for xv, lab in zip(MARK_LOG_TAU, MARK_LABELS):
    ann.append(dict(x=xv, y=MDEV_YRANGE[0], xref="x3", yref="y3", text=f"<b>{lab}</b>", showarrow=False,
                    yshift=16, font=dict(size=20, color="red", family=FONT)))
for xv, yv, lab in zip(LOG_TAU, TDEV_LOG, TDEV_LABELS):
    ann.append(dict(x=xv, y=yv, xref="x4", yref="y4", text=f"<b>{lab}</b>", showarrow=False,
                    yshift=24, font=dict(size=17, color="red", family=FONT)))
for xv, lab in zip(MARK_LOG_TAU, MARK_LABELS):
    ann.append(dict(x=xv, y=TDEV_YRANGE[0], xref="x4", yref="y4", text=f"<b>{lab}</b>", showarrow=False,
                    yshift=25, font=dict(size=19, color="red", family=FONT)))

fig.update_layout(annotations=ann)
fig.write_html(
    "out.html",
    config={"displayModeBar": False},
    post_script=(
        "document.documentElement.style.margin='0';"
        "document.body.style.margin='0';document.body.style.padding='0';"
        "var gd=document.getElementById('{plot_id}');"
        "gd.style.position='absolute';gd.style.left='0px';gd.style.top='0px';"
        "if(gd.parentElement){gd.parentElement.style.margin='0';}"
    ),
)
